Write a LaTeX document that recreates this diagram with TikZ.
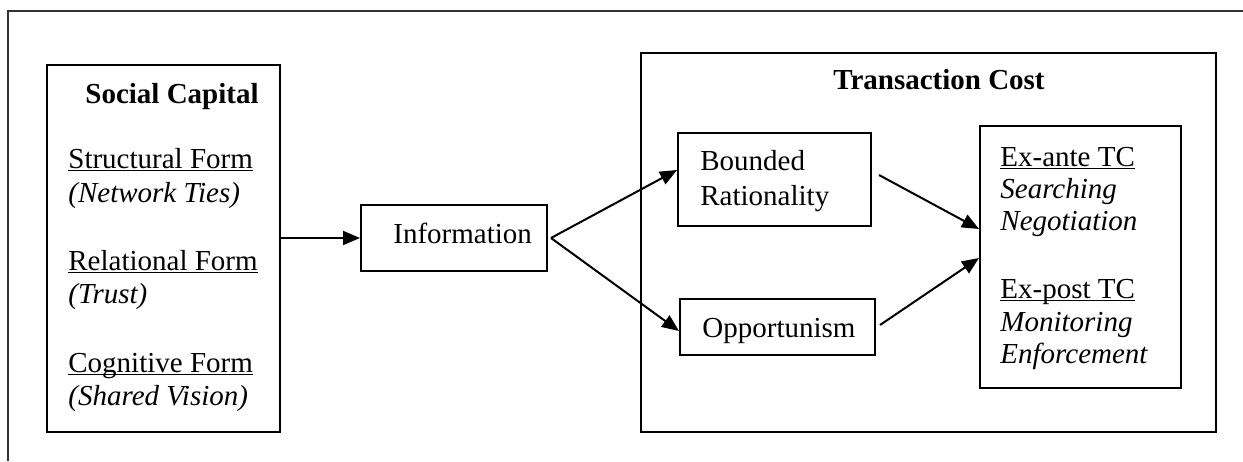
\documentclass[tikz,border=0pt]{standalone}
\usepackage{fontspec}
\setmainfont{Liberation Serif}
\usetikzlibrary{arrows.meta}
\newcommand\myul[1]{\underline{\smash{#1}}}
\begin{document}
\begin{tikzpicture}[x=0.5pt,y=-0.5pt,
  box/.style={draw, line width=1pt, inner sep=0pt},
  txt/.style={anchor=base west, inner sep=0pt, font=\fontsize{14.5}{17}\selectfont},
  arr/.style={line width=1pt, -{Triangle[length=8.5pt,width=7pt]}}]
\useasboundingbox (0,0) rectangle (1243,461);
% outer frame (partly cut)
\draw[line width=0.6pt, black!80] (8,461) -- (8,11) -- (1243,11);
% boxes
\node[box, minimum width=116.5pt, minimum height=183.5pt] (sc) at (163.5,248.5) {};
\node[box, minimum width=287.5pt, minimum height=189.5pt] (tc) at (928.5,242.5) {};
\node[box, minimum width=100.5pt, minimum height=131pt] (tcin) at (1080.5,257) {};
\node[box, minimum width=96.5pt, minimum height=46.5pt] (br) at (774.5,179.5) {};
\node[box, minimum width=97.5pt, minimum height=28pt] (op) at (777.5,327) {};
\node[box, minimum width=93pt, minimum height=33pt] (info) at (454,238) {};
% texts
\node[txt, font=\fontsize{14.5}{17}\selectfont\bfseries] (sctitle) at (85,103) {Social Capital};
\node[txt] (sf) at (68,168) {\myul{Structural Form}};
\node[txt] (sfi) at (68,202) {\textit{(Network Ties)}};
\node[txt] (rf) at (68,270) {\myul{Relational Form}};
\node[txt] (rfi) at (68,303) {\textit{(Trust)}};
\node[txt] (cf) at (68,372) {\myul{Cognitive Form}};
\node[txt] (cfi) at (68,405) {\textit{(Shared Vision)}};
\node[txt] (infot) at (393,243) {Information};
\node[txt] (brt1) at (700,170) {Bounded};
\node[txt] (brt2) at (700,205) {Rationality};
\node[txt] (opt) at (702,337) {Opportunism};
\node[txt, anchor=base, font=\fontsize{14.5}{17}\selectfont\bfseries] (tctitle) at (939,89) {Transaction Cost};
\node[txt] (ea) at (1000,166) {\myul{Ex-ante TC}};
\node[txt] (ea1) at (1000,198) {\textit{Searching}};
\node[txt] (ea2) at (1000,230) {\textit{Negotiation}};
\node[txt] (ep) at (1000,298) {\myul{Ex-post TC}};
\node[txt] (ep1) at (1000,331) {\textit{Monitoring}};
\node[txt] (ep2) at (1000,363) {\textit{Enforcement}};
% connectors
\draw[arr] (sc.east |- info.west) -- (info.west);
\draw[arr] ([shift={(3,0)}]info.east) -- ([shift={(0,-9.5)}]br.west);
\draw[arr] ([shift={(3,0)}]info.east) -- ([shift={(0,4)}]op.west);
\draw[arr] ([shift={(7,-4.5)}]br.east) -- ([shift={(0,-28)}]tcin.west);
\draw[arr] ([shift={(4,-2)}]op.east) -- ([shift={(0,1)}]tcin.west);
\end{tikzpicture}
\end{document}
